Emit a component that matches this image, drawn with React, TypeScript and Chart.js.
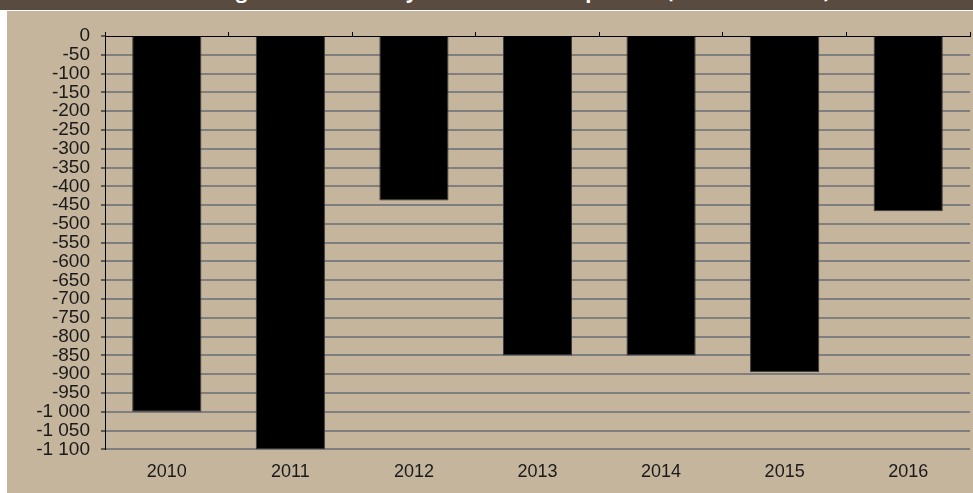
import React, { useEffect, useRef } from 'react';
import { Chart, registerables } from 'chart.js';

Chart.register(...registerables);

const titleText = 'Change in Net Trade by Annual Total Shipments (Thousand Tons)';
const years = ['2010', '2011', '2012', '2013', '2014', '2015', '2016'];
const values = [-1000, -1100, -438, -850, -850, -895, -466];
const yMin = -1100;
const yMax = 0;
const yStep = 50;

function fmt(v: number): string {
  const s = Math.abs(v).toString().replace(/\B(?=(\d{3})+(?!\d))/g, ' ');
  return (v < 0 ? '-' : '') + s;
}

const FONT = '"Liberation Sans", Arial, sans-serif';

export default function App() {
  const ref = useRef<HTMLCanvasElement | null>(null);

  useEffect(() => {
    document.body.style.margin = '0';
    const canvas = ref.current;
    if (!canvas) return;
    const chart = new Chart(canvas, {
      type: 'bar',
      data: {
        labels: years,
        datasets: [
          {
            data: values,
            backgroundColor: '#000000',
            borderColor: '#3a3a3a',
            borderWidth: 1,
            barPercentage: 0.56,
            categoryPercentage: 1,
            xAxisID: 'x',
            yAxisID: 'y',
          },
        ],
      },
      options: {
        animation: false,
        responsive: false,
        maintainAspectRatio: false,
        layout: { padding: { top: 21, right: 3, bottom: 5, left: 0 } },
        plugins: { legend: { display: false }, tooltip: { enabled: false }, title: { display: false } },
        scales: {
          x: {
            position: 'bottom',
            grid: { display: false },
            border: { display: false },
            ticks: { color: '#1a1a1a', font: { family: FONT, size: 18 }, padding: 4, maxRotation: 0 },
          },
          x2: {
            type: 'category',
            position: 'top',
            labels: years,
            offset: true,
            grid: { display: true, offset: true, drawOnChartArea: false, drawTicks: true, tickLength: 4, color: '#000000', tickColor: '#000000' },
            border: { display: true, color: '#000000', width: 1 },
            ticks: { display: false },
          },
          y: {
            position: 'left',
            min: yMin,
            max: yMax,
            ticks: {
              stepSize: yStep,
              autoSkip: false,
              callback: (v: any) => fmt(Number(v)),
              color: '#1a1a1a',
              font: { family: FONT, size: 19 },
              padding: 11,
            },
            grid: {
              color: (ctx: any) => (ctx.tick && ctx.tick.value === 0 ? 'rgba(0,0,0,0)' : '#7f7f7f'),
              lineWidth: 2,
              tickColor: '#000000',
              tickLength: 4,
              tickWidth: 1,
            },
            border: { color: '#000000', width: 1 },
            afterFit: (s: any) => {
              s.width = 98;
            },
          },
        },
      },
    } as any);
    return () => chart.destroy();
  }, []);

  return (
    <div style={{ position: 'relative', width: 973, height: 493, background: '#ffffff', overflow: 'hidden' }}>
      <div
        style={{
          position: 'absolute',
          left: 0,
          top: 0,
          width: 973,
          height: 10,
          background: '#5a4b41',
          overflow: 'hidden',
        }}
      >
        <div
          style={{
            position: 'absolute',
            left: 185,
            top: -19,
            whiteSpace: 'nowrap',
            color: '#ffffff',
            fontFamily: '"Open Sans", sans-serif',
            fontWeight: 700,
            fontSize: 20,
            lineHeight: '20px',
          }}
        >
          {titleText}
        </div>
      </div>
      <div style={{ position: 'absolute', left: 7, top: 11, width: 966, height: 482, background: '#c4b59c' }}>
        <canvas ref={ref} width={966} height={481} style={{ display: 'block', width: 966, height: 481 }} />
      </div>
    </div>
  );
}
